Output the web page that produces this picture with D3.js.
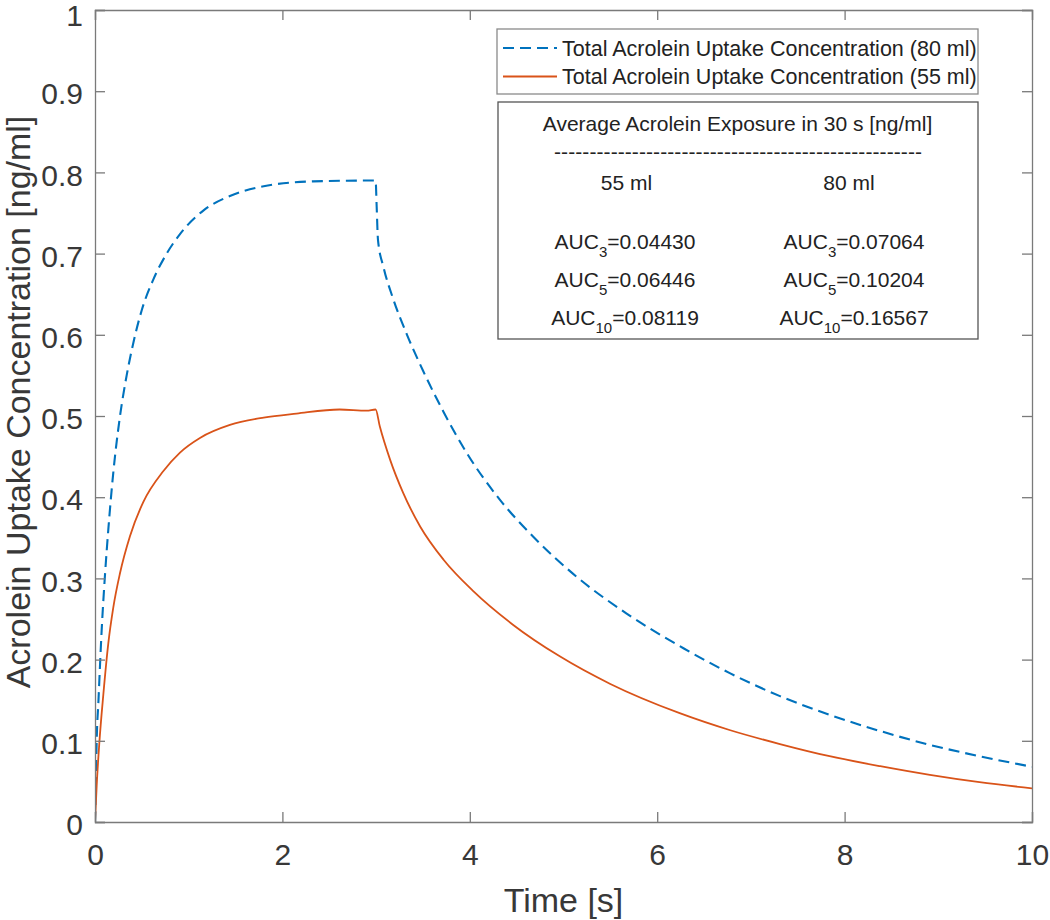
<!DOCTYPE html>
<html><head><meta charset="utf-8">
<script src="https://cdn.jsdelivr.net/npm/d3@7"></script>
<style>
body{margin:0;background:#fff;}
text{font-family:Arial,"Liberation Sans",Helvetica,sans-serif;}
</style></head>
<body><svg id="c" width="1050" height="920"></svg>
<script>
// ---- data ----
const xTicks = [0, 2, 4, 6, 8, 10];
const yTicks = [0, 0.1, 0.2, 0.3, 0.4, 0.5, 0.6, 0.7, 0.8, 0.9, 1];
const yTickLabels = ["0","0.1","0.2","0.3","0.4","0.5","0.6","0.7","0.8","0.9","1"];

const t80 = [0,0.01,0.018,0.036,0.071,0.107,0.142,0.195,0.267,0.338,0.409,0.498,0.622,0.765,0.907,1.156,1.44,1.80,2.33,2.995,3.006,3.02,3.08,3.18,3.33,3.50,3.72,3.97,4.32,4.68,5.14,5.67,6.28,6.78,7.31,7.84,8.38,8.91,9.44,10];
const v80 = [0,0.052,0.1,0.147,0.236,0.305,0.36,0.43,0.50,0.55,0.59,0.63,0.668,0.70,0.724,0.753,0.771,0.783,0.789,0.790,0.758,0.717,0.683,0.645,0.600,0.556,0.505,0.454,0.397,0.351,0.302,0.257,0.214,0.183,0.155,0.132,0.112,0.095,0.081,0.068];

const t55 = [0,0.018,0.046,0.089,0.142,0.195,0.266,0.373,0.515,0.728,0.907,1.12,1.44,1.80,2.15,2.61,2.90,2.995,3.04,3.15,3.29,3.47,3.72,4.04,4.46,4.96,5.5,6.24,6.78,7.31,7.84,8.38,8.91,9.44,10];
const v55 = [0,0.045,0.097,0.157,0.22,0.264,0.306,0.352,0.394,0.432,0.455,0.473,0.489,0.498,0.503,0.508,0.5065,0.508,0.487,0.446,0.405,0.364,0.323,0.284,0.243,0.204,0.17,0.134,0.113,0.096,0.081,0.0687,0.058,0.049,0.0415];

const legendLabels = ["Total Acrolein Uptake Concentration (80 ml)", "Total Acrolein Uptake Concentration (55 ml)"];
const boxTitle = "Average Acrolein Exposure in 30 s [ng/ml]";
const colHeads = ["55 ml", "80 ml"];
const aucSubs = ["3", "5", "10"];
const auc55 = ["0.04430", "0.06446", "0.08119"];
const auc80 = ["0.07064", "0.10204", "0.16567"];

// ---- layout ----
const L = 95, R = 1032, T = 10, B = 822;
const svg = d3.select("#c");
const x = d3.scaleLinear().domain([0, 10]).range([L, R]);
const y = d3.scaleLinear().domain([0, 1]).range([B, T]);
const axisCol = "#7a7a7a", textCol = "#383838";

svg.append("defs").append("clipPath").attr("id","clip")
  .append("rect").attr("x",L).attr("y",T).attr("width",R-L).attr("height",B-T);

// lines
const line = d3.line().x(d => x(d[0])).y(d => y(d[1])).curve(d3.curveMonotoneX);
const d80 = t80.map((t,i)=>[t, v80[i]]);
const d55 = t55.map((t,i)=>[t, v55[i]]);
const g = svg.append("g").attr("clip-path","url(#clip)");
g.append("path").attr("d", line(d80)).attr("fill","none").attr("stroke","#0072BD")
  .attr("stroke-width",2.1).attr("stroke-dasharray","11,6");
g.append("path").attr("d", line(d55)).attr("fill","none").attr("stroke","#D95319")
  .attr("stroke-width",1.8);

// axes
const fmt = (d) => yTickLabels[yTicks.indexOf(d)];
const ax = svg.append("g").attr("transform",`translate(0,${B})`)
  .call(d3.axisBottom(x).tickValues(xTicks).tickSize(-10).tickPadding(22).tickFormat(d3.format("d")));
const ay = svg.append("g").attr("transform",`translate(${L},0)`)
  .call(d3.axisLeft(y).tickValues(yTicks).tickSize(-10).tickPadding(12).tickFormat(fmt));
const axT = svg.append("g").attr("transform",`translate(0,${T})`)
  .call(d3.axisTop(x).tickValues(xTicks).tickSize(-10).tickFormat(""));
const ayR = svg.append("g").attr("transform",`translate(${R},0)`)
  .call(d3.axisRight(y).tickValues(yTicks).tickSize(-10).tickFormat(""));
[ax, ay, axT, ayR].forEach(a => {
  a.selectAll(".domain").attr("stroke", axisCol).attr("stroke-width",1.3);
  a.selectAll(".tick line").attr("stroke", axisCol).attr("stroke-width",1.3);
  a.selectAll(".tick text").attr("fill", textCol).style("font-size","30px")
    .style("font-family","Arial, 'Liberation Sans', sans-serif");
});
ax.selectAll(".tick text").attr("dy","0.71em");
ay.selectAll(".tick text").attr("dy", d => d === 1 ? "0.5em" : "0.42em");

// axis labels
svg.append("text").attr("x",(L+R)/2).attr("y",912).attr("text-anchor","middle")
  .attr("fill",textCol).style("font-size","34px").text("Time [s]");
svg.append("text").attr("transform",`translate(30,${(T+B)/2 - 14}) rotate(-90)`).attr("text-anchor","middle")
  .attr("fill",textCol).style("font-size","34px").text("Acrolein Uptake Concentration [ng/ml]");

// legend
const lg = svg.append("g");
lg.append("rect").attr("x",497).attr("y",29).attr("width",481).attr("height",65)
  .attr("fill","#fff").attr("stroke","#8a8a8a").attr("stroke-width",1.3);
const legStyles = [{c:"#0072BD", dash:"11,6", w:2.1},{c:"#D95319", dash:null, w:1.8}];
legendLabels.forEach((lab,i) => {
  const yy = 48 + i*28.5;
  lg.append("line").attr("x1",503).attr("x2",557).attr("y1",yy).attr("y2",yy)
    .attr("stroke",legStyles[i].c).attr("stroke-width",legStyles[i].w)
    .attr("stroke-dasharray",legStyles[i].dash);
  lg.append("text").attr("x",562).attr("y",yy+7.5).attr("fill","#222")
    .style("font-size","21.5px").text(lab);
});

// text box
const tb = svg.append("g");
tb.append("rect").attr("x",498).attr("y",102).attr("width",480).attr("height",237)
  .attr("fill","#fff").attr("stroke","#555").attr("stroke-width",1.3);
const fs = "21px";
tb.append("text").attr("x",737.5).attr("y",131).attr("text-anchor","middle").attr("fill","#222")
  .style("font-size",fs).text(boxTitle);
tb.append("text").attr("x",554).attr("y",159).attr("fill","#222").style("font-size",fs)
  .attr("textLength",368).attr("lengthAdjust","spacing").text("-".repeat(52));
tb.append("text").attr("x",626.5).attr("y",190).attr("text-anchor","middle").attr("fill","#222")
  .style("font-size",fs).text(colHeads[0]);
tb.append("text").attr("x",849).attr("y",190).attr("text-anchor","middle").attr("fill","#222")
  .style("font-size",fs).text(colHeads[1]);
const rowY = [249, 287, 325];
[[auc55, 625],[auc80, 854]].forEach(([vals, cx]) => {
  vals.forEach((v,i) => {
    const t = tb.append("text").attr("x",cx).attr("y",rowY[i]).attr("text-anchor","middle")
      .attr("fill","#222").style("font-size",fs);
    t.append("tspan").text("AUC");
    t.append("tspan").attr("dy",8).style("font-size","15px").text(aucSubs[i]);
    t.append("tspan").attr("dy",-8).text("=" + v);
  });
});
</script></body></html>
